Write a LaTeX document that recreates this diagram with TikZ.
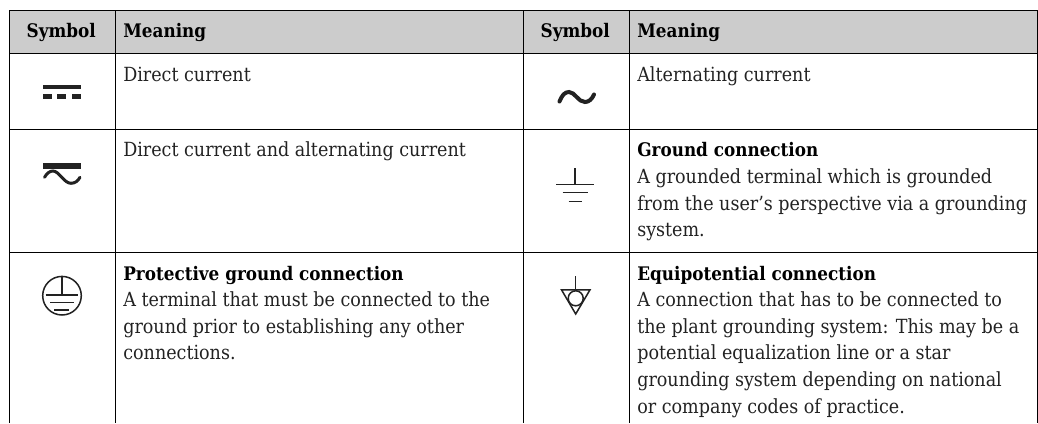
\documentclass[tikz,border=0pt]{standalone}
\usepackage{fontspec}
\setmainfont{DejaVu Serif Condensed}
\definecolor{hdr}{gray}{0.8}
\definecolor{ink}{HTML}{222222}
\tikzset{
 x=1pt,y=-1pt,
 rule/.style={draw=black,line width=1pt},
 sym/.style={draw=ink,line width=1.5pt},
 txt/.style={anchor=base west,inner sep=0pt,outer sep=0pt,font=\fontsize{19.5}{20}\selectfont,text=ink},
 bld/.style={anchor=base west,inner sep=0pt,outer sep=0pt,font=\fontsize{18.7}{20}\selectfont\bfseries,text=black},
}
\begin{document}
\begin{tikzpicture}
\useasboundingbox (0,0) rectangle (1038,423);
\fill[white] (0,0) rectangle (1038,423);
\fill[hdr] (9.5,10.7) rectangle (1037.3,53);
\foreach \y in {10.7,53,129.3,252.4} \draw[rule] (9,\y) -- (1037.8,\y);
\foreach \x in {9.5,115.4,523.4,629.4,1037.3} \draw[rule] (\x,10.2) -- (\x,423);
\node[bld] (h1) at (26.7,37.7) {Symbol};
\node[bld] (h2) at (123.3,37.7) {Meaning};
\node[bld] (h3) at (540.7,37.7) {Symbol};
\node[bld] (h4) at (637.3,37.7) {Meaning};
\node[txt] (a) at (123.3,81.7) {Direct current};
\node[txt] (b) at (637.3,81.7) {Alternating current};
\node[txt] (c) at (123.3,156.7) {Direct current and alternating current};
\node[bld] (d) at (637.3,156.7) {Ground connection};
\node[txt] (d1) at (637.3,183.5) {A grounded terminal which is grounded};
\node[txt] (d2) at (637.3,210.2) {from the user's perspective via a grounding};
\node[txt] (d3) at (637.3,236.8) {system.};
\node[bld] (e) at (123.3,280) {Protective ground connection};
\node[txt] (e1) at (123.3,306.6) {A terminal that must be connected to the};
\node[txt] (e2) at (123.3,333.2) {ground prior to establishing any other};
\node[txt] (e3) at (123.3,359.8) {connections.};
\node[bld] (f) at (637.3,280) {Equipotential connection};
\node[txt] (f1) at (637.3,306.6) {A connection that has to be connected to};
\node[txt] (f2) at (637.3,333.2) {the plant grounding system: This may be a};
\node[txt] (f3) at (637.3,359.8) {potential equalization line or a star};
\node[txt] (f4) at (637.3,386.4) {grounding system depending on national};
\node[txt] (f5) at (637.3,413) {or company codes of practice.};
% DC
\fill[ink] (42.7,85) rectangle (80.7,89);
\fill[ink] (42.7,94.3) rectangle (51.7,98.7);
\fill[ink] (56.7,94.3) rectangle (65.7,98.7);
\fill[ink] (71.7,94.3) rectangle (80.7,98.7);
% AC
\draw[ink,line width=4pt,line cap=round] (559.5,101.5) .. controls (562,95) and (565,92) .. (569,92) .. controls (575,92) and (578,102) .. (585,102) .. controls (589,102) and (592,99) .. (594,94.5);
% DC+AC
\fill[ink] (42.7,162.7) rectangle (81,169);
\draw[ink,line width=3pt,line cap=round] (44.5,177.3) .. controls (47,173) and (50,171) .. (53,171) .. controls (59,171) and (64,183.3) .. (71,183.3) .. controls (75,183.3) and (78,181) .. (80,177.3);
% ground
\draw[sym] (575,168.3) -- (575,184.3);
\draw[sym] (556,184.3) -- (594.3,184.3);
\draw[sym] (562.7,192.7) -- (588.3,192.7);
\draw[sym] (568.7,201.7) -- (581.7,201.7);
% protective
\draw[sym] (62,295.7) circle (19.3);
\draw[sym] (62,276.7) -- (62,295);
\draw[sym] (45.7,295) -- (78.3,295);
\draw[sym] (50,302.3) -- (74,302.3);
\draw[sym] (54.3,310) -- (69.3,310);
% equipotential
\draw[sym] (575.7,276) -- (575.7,290);
\draw[sym,line join=miter] (561.5,289.8) -- (590,289.8) -- (575.7,314) -- cycle;
\draw[sym] (575.7,298.3) circle (7.5);
\end{tikzpicture}
\end{document}
